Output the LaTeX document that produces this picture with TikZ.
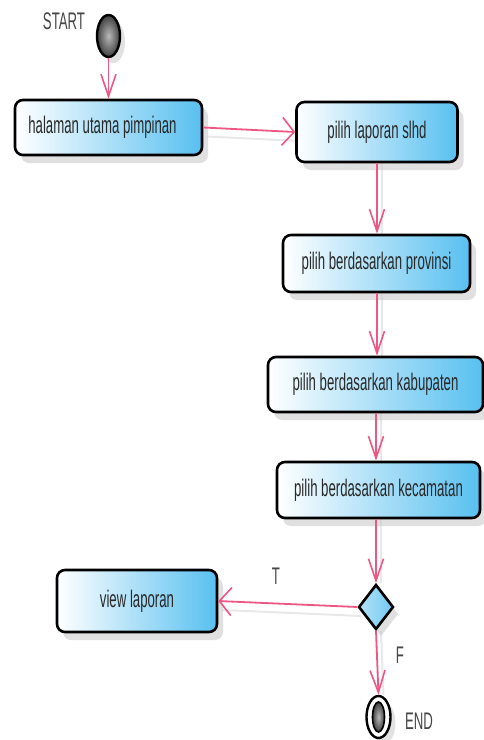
\documentclass[tikz,border=0pt]{standalone}
\usepackage{fontspec}
\setmainfont{Liberation Sans}[FakeStretch=0.55]
\usetikzlibrary{arrows.meta,shapes.geometric,shadows,backgrounds}

\definecolor{flowpink}{RGB}{238,86,132}
\definecolor{boxblue}{RGB}{88,192,240}
\definecolor{inktext}{RGB}{40,40,40}
\definecolor{labeltext}{RGB}{70,70,70}

\tikzset{
  actbox/.style={rectangle, rounded corners=8pt, draw=black, line width=2.6pt,
    left color=white, right color=boxblue, text=inktext,
    font=\fontsize{24}{28}\selectfont, inner sep=0pt,
    drop shadow={shadow xshift=6pt, shadow yshift=-8pt, fill=gray!45, opacity=0.55}},
  decision/.style={diamond, draw=black, line width=2.6pt, inner sep=0pt,
    left color=white!55!boxblue, right color=boxblue!85,
    minimum width=35pt, minimum height=45pt,
    drop shadow={shadow xshift=5pt, shadow yshift=-7pt, fill=gray!45, opacity=0.55}},
  startdot/.style={ellipse, draw=black, line width=2.4pt, inner sep=0pt,
    inner color=gray!55, outer color=black!75,
    drop shadow={shadow xshift=5pt, shadow yshift=-6pt, fill=gray!45, opacity=0.5}},
  endring/.style={ellipse, draw=black, line width=2.4pt, fill=white, inner sep=0pt,
    drop shadow={shadow xshift=5pt, shadow yshift=-6pt, fill=gray!45, opacity=0.5}},
  enddot/.style={ellipse, draw=black, line width=1.6pt, inner sep=0pt,
    inner color=gray!55, outer color=black!75},
  tag/.style={text=labeltext, font=\fontsize{24}{28}\selectfont, inner sep=0pt},
  flowh/.style={draw=flowpink, line width=1.8pt,
    -{Straight Barb[length=12pt, width=28pt, line width=1.6pt]}},
  flowv/.style={draw=flowpink, line width=1.8pt,
    -{Straight Barb[length=22pt, width=15pt, line width=1.6pt]}},
  flowshade/.style={draw=gray!18, line width=2pt}
}

\begin{document}
\begin{tikzpicture}[x=1pt, y=-1pt]
  \useasboundingbox (0,0) rectangle (484,740);

  % start marker
  \node[tag] (startlbl) at (64,21) {START};
  \node[startdot, minimum width=23pt, minimum height=42pt] (start) at (108.5,36) {};

  % activities
  \node[actbox, minimum width=187pt, minimum height=55pt] (home) at (108.5,127.5) {\hspace*{-12pt}halaman utama pimpinan};
  \node[actbox, minimum width=161pt, minimum height=60pt] (report) at (377,132) {pilih laporan slhd};
  \node[actbox, minimum width=187pt, minimum height=57pt] (prov) at (376.5,263.5) {pilih berdasarkan provinsi};
  \node[actbox, minimum width=215pt, minimum height=55pt] (kab) at (375.5,384.5) {pilih berdasarkan kabupaten};
  \node[actbox, minimum width=203pt, minimum height=56pt] (kec) at (378.5,490) {pilih berdasarkan kecamatan};
  \node[actbox, minimum width=160pt, minimum height=62pt] (view) at (137,601) {view laporan};

  % decision and final state
  \node[decision] (check) at (376,607) {};
  \node[endring, minimum width=24pt, minimum height=42pt] (finish) at (378.5,717) {};
  \node[enddot, minimum width=12pt, minimum height=30pt] (finishdot) at (finish.center) {};
  \node[tag] (endlbl) at (419,721) {END};

  % guard labels
  \node[tag] (tlbl) at (276,576) {T};
  \node[tag] (flbl) at (400,655) {F};

  % faint shadows under the flows
  \begin{pgfonlayer}{background}
    \draw[flowshade] ([shift={(4pt,-9pt)}]home.east) -- ([shift={(4pt,-9pt)}]report.west);
    \draw[flowshade] ([shift={(4pt,-9pt)}]check.west) -- ([shift={(4pt,-9pt)}]view.east);
    \draw[flowshade] ([xshift=5pt]report.south) -- ([xshift=5pt]report.south |- prov.north);
    \draw[flowshade] ([xshift=5pt]prov.south) -- ([xshift=5pt]prov.south |- kab.north);
    \draw[flowshade] ([xshift=5pt]check.north |- kab.south) -- ([xshift=5pt]check.north |- kec.north);
    \draw[flowshade] ([xshift=5pt]check.north |- kec.south) -- ([xshift=5pt]check.north);
    \draw[flowshade] ([xshift=5pt]check.south) -- ([xshift=5pt]finish.north);
  \end{pgfonlayer}

  % control flows
  \draw[flowv] (start.south) -- (start.south |- home.north);
  \draw[flowh] (home.east) -- (report.west);
  \draw[flowv] (report.south) -- (report.south |- prov.north);
  \draw[flowv] (report.south |- prov.south) -- (report.south |- kab.north);
  \draw[flowv] (check.north |- kab.south) -- (check.north |- kec.north);
  \draw[flowv] (check.north |- kec.south) -- (check.north);
  \draw[flowh] (check.west) -- (view.east);
  \draw[flowv] (check.south) -- (finish.north);
\end{tikzpicture}
\end{document}
